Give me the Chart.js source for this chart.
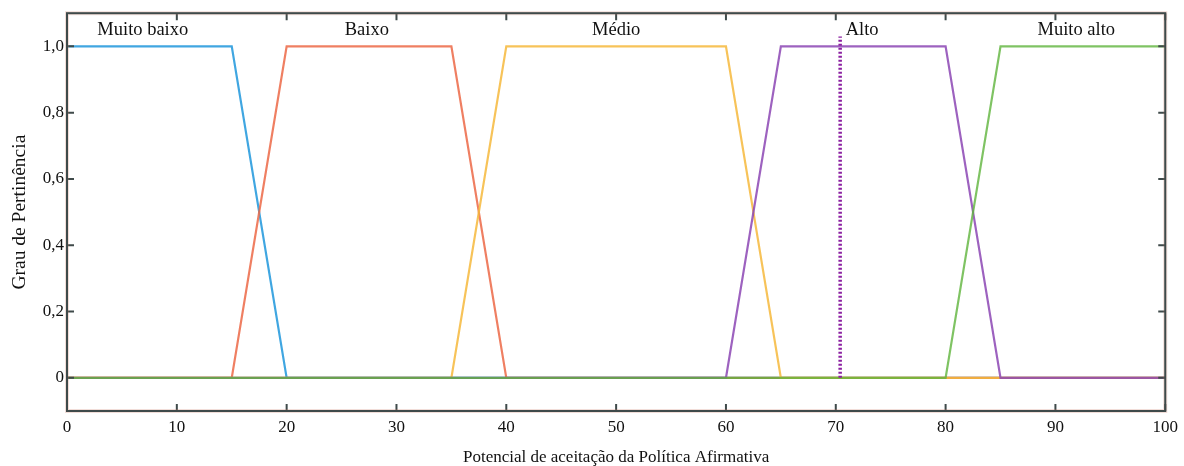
<!DOCTYPE html>
<html>
<head>
<meta charset="utf-8">
<script src="https://cdn.jsdelivr.net/npm/chart.js@4/dist/chart.umd.min.js"></script>
<style>
  html, body { margin: 0; padding: 0; background: #fff; }
  #wrap { width: 1184px; height: 466px; }
</style>
</head>
<body>
<div id="wrap"><canvas id="fuzzyChart"></canvas></div>
<script>
// membership functions (x, grau)
const muitoBaixoX = [0, 15, 20, 100];
const muitoBaixoY = [1, 1, 0, 0];
const baixoX = [0, 15, 20, 35, 40, 100];
const baixoY = [0, 0, 1, 1, 0, 0];
const medioX = [0, 35, 40, 60, 65, 100];
const medioY = [0, 0, 1, 1, 0, 0];
const altoX = [0, 60, 65, 80, 85, 100];
const altoY = [0, 0, 1, 1, 0, 0];
const muitoAltoX = [0, 80, 85, 100];
const muitoAltoY = [0, 0, 1, 1];

// dotted marker
const markerX = [70.4, 70.4];
const markerY = [0, 1.03];

// category names written over the curves
const classNames = ['Muito baixo', 'Baixo', 'Médio', 'Alto', 'Muito alto'];
const classNameX = [6.9, 27.3, 50, 70.9, 91.9];
const classNameY = [1.048, 1.048, 1.048, 1.048, 1.048];
const classAlign = ['center', 'center', 'center', 'left', 'center'];

const xTicks = [0, 10, 20, 30, 40, 50, 60, 70, 80, 90, 100];
const yTicks = [0, 0.2, 0.4, 0.6, 0.8, 1.0];
const yTickLabels = ['0', '0,2', '0,4', '0,6', '0,8', '1,0'];

const serif = "'Liberation Serif', 'DejaVu Serif', serif";
const frameColor = '#3f4a4a';

function pts(xs, ys) { return xs.map((x, i) => ({ x, y: ys[i] })); }

function line(label, xs, ys, color, order) {
  return {
    label, data: pts(xs, ys), order,
    borderColor: color, borderWidth: 2.2,
    pointRadius: 0, tension: 0, fill: false
  };
}

const frameAndTicks = {
  id: 'frameAndTicks',
  afterDraw(chart) {
    const { ctx, chartArea: a, scales } = chart;
    const len = 7;
    ctx.save();
    ctx.strokeStyle = frameColor;
    ctx.lineWidth = 2;
    xTicks.forEach(v => {
      const px = scales.x.getPixelForValue(v);
      ctx.beginPath();
      ctx.moveTo(px, a.bottom); ctx.lineTo(px, a.bottom - len);
      ctx.moveTo(px, a.top); ctx.lineTo(px, a.top + len);
      ctx.stroke();
    });
    yTicks.forEach(v => {
      const py = scales.y.getPixelForValue(v);
      ctx.beginPath();
      ctx.moveTo(a.left, py); ctx.lineTo(a.left + len, py);
      ctx.moveTo(a.right, py); ctx.lineTo(a.right - len, py);
      ctx.stroke();
    });
    ctx.strokeStyle = 'rgba(200,120,100,0.25)';
    ctx.lineWidth = 4;
    ctx.strokeRect(a.left, a.top, a.right - a.left, a.bottom - a.top);
    ctx.strokeStyle = frameColor;
    ctx.lineWidth = 2;
    ctx.strokeRect(a.left, a.top, a.right - a.left, a.bottom - a.top);

    ctx.fillStyle = '#111';
    ctx.font = '18.5px ' + serif;
    ctx.textBaseline = 'middle';
    classNames.forEach((t, i) => {
      ctx.textAlign = classAlign[i];
      ctx.fillText(t, scales.x.getPixelForValue(classNameX[i]), scales.y.getPixelForValue(classNameY[i]));
    });
    ctx.restore();
  }
};

new Chart(document.getElementById('fuzzyChart'), {
  type: 'line',
  data: {
    datasets: [
      line('Muito baixo', muitoBaixoX, muitoBaixoY, 'rgba(30,150,220,0.85)', 5),
      line('Baixo', baixoX, baixoY, 'rgba(236,105,70,0.85)', 4),
      line('Médio', medioX, medioY, 'rgba(246,185,60,0.85)', 3),
      line('Alto', altoX, altoY, 'rgba(140,70,180,0.85)', 2),
      line('Muito alto', muitoAltoX, muitoAltoY, 'rgba(95,180,60,0.8)', 1),
      {
        label: 'marcador', data: pts(markerX, markerY), order: 0,
        borderColor: '#8a1fa0', borderWidth: 3.5, borderDash: [2, 2],
        pointRadius: 0, fill: false
      }
    ]
  },
  options: {
    responsive: true,
    maintainAspectRatio: false,
    animation: false,
    layout: { padding: { top: 12, right: 18, left: 0, bottom: 0 } },
    plugins: { legend: { display: false }, tooltip: { enabled: false } },
    scales: {
      x: {
        type: 'linear', min: 0, max: 100,
        afterBuildTicks: s => { s.ticks = xTicks.map(v => ({ value: v })); },
        afterFit: s => { s.height = 55; },
        grid: { display: false, drawTicks: false },
        border: { display: false },
        ticks: { color: '#111', padding: 6, maxRotation: 0, font: { family: serif, size: 17 } },
        title: { display: true, text: 'Potencial de aceitação da Política Afirmativa',
                 color: '#111', padding: { top: 4, bottom: -2 }, font: { family: serif, size: 17 } }
      },
      y: {
        type: 'linear', min: -0.1, max: 1.1,
        afterBuildTicks: s => { s.ticks = yTicks.map(v => ({ value: v })); },
        afterFit: s => { s.width = 67; },
        grid: { display: false, drawTicks: false },
        border: { display: false },
        ticks: {
          color: '#111', padding: 3, font: { family: serif, size: 17 },
          callback: v => yTickLabels[yTicks.findIndex(t => Math.abs(t - v) < 1e-6)]
        },
        title: { display: true, text: 'Grau de Pertinência',
                 color: '#111', padding: { top: 8, bottom: 0 }, font: { family: serif, size: 19.5 } }
      }
    }
  },
  plugins: [frameAndTicks]
});
</script>
</body>
</html>
